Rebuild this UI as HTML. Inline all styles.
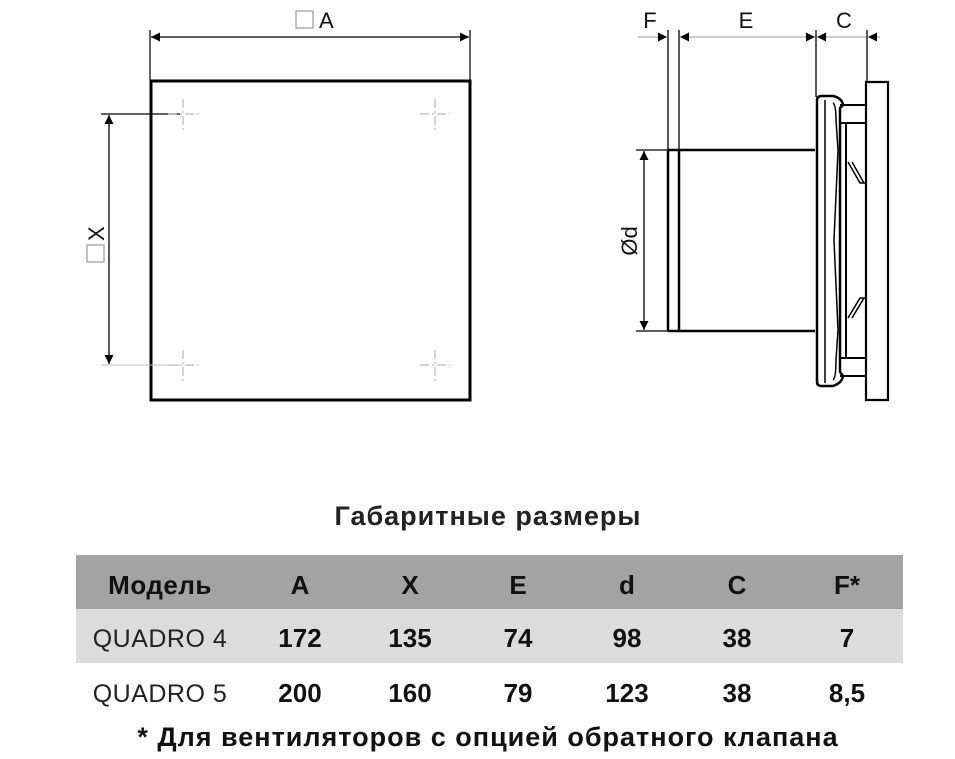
<!DOCTYPE html>
<html><head><meta charset="utf-8"><style>
html,body{margin:0;padding:0;background:#fff;width:955px;height:759px;overflow:hidden}
svg{display:block}
text{font-family:"Liberation Sans","DejaVu Sans",sans-serif}
</style></head><body>
<svg width="955" height="759" viewBox="0 0 955 759" xmlns="http://www.w3.org/2000/svg">
<defs>
<marker id="ar" viewBox="0 0 10 10" refX="10" refY="5" markerWidth="12" markerHeight="9" markerUnits="userSpaceOnUse" orient="auto-start-reverse"><path d="M0,0 L10,5 L0,10 z" fill="#000"/></marker>
</defs>
<rect x="151" y="81" width="319" height="319" fill="none" stroke="#000" stroke-width="3"/>
<line x1="150" y1="30" x2="150" y2="80" stroke="#000" stroke-width="1.2"/>
<line x1="470" y1="30" x2="470" y2="80" stroke="#000" stroke-width="1.2"/>
<line x1="151" y1="37" x2="469" y2="37" stroke="#000" stroke-width="1.3" marker-start="url(#ar)" marker-end="url(#ar)"/>
<rect x="296" y="11" width="17" height="17" fill="none" stroke="#999" stroke-width="1.2"/>
<text x="319" y="28" font-size="22" fill="#111">A</text>
<line x1="101" y1="114" x2="180" y2="114" stroke="#000" stroke-width="1.2"/>
<line x1="101" y1="365" x2="180" y2="365" stroke="#bbb" stroke-width="1"/>
<line x1="109" y1="115" x2="109" y2="364" stroke="#000" stroke-width="1.3" marker-start="url(#ar)" marker-end="url(#ar)"/>
<g transform="translate(102,241) rotate(-90)">
<rect x="-21" y="-15" width="17" height="17" fill="none" stroke="#999" stroke-width="1.2"/>
<text x="0" y="2" font-size="22" fill="#111">X</text>
</g>
<g stroke="#aaa" stroke-width="1" stroke-dasharray="9,3,2,3">
<line x1="168" y1="114" x2="200" y2="114"/><line x1="183" y1="99" x2="183" y2="130"/>
<line x1="420" y1="114" x2="450" y2="114"/><line x1="435" y1="99" x2="435" y2="130"/>
<line x1="168" y1="365" x2="200" y2="365"/><line x1="183" y1="350" x2="183" y2="381"/>
<line x1="420" y1="365" x2="450" y2="365"/><line x1="435" y1="350" x2="435" y2="381"/>
</g>
<g stroke="#000" fill="none">
<line x1="668" y1="30" x2="668" y2="331" stroke-width="1.3"/>
<line x1="679" y1="30" x2="679" y2="331" stroke-width="1.3"/>
<line x1="816" y1="30" x2="816" y2="97" stroke-width="1.3"/>
<line x1="867" y1="30" x2="867" y2="82" stroke-width="1.3"/>
<line x1="638" y1="37" x2="667" y2="37" stroke="#999" stroke-width="1" marker-end="url(#ar)"/>
<line x1="680" y1="37" x2="815" y2="37" stroke="#999" stroke-width="1" marker-start="url(#ar)" marker-end="url(#ar)"/>
<line x1="817" y1="37" x2="866" y2="37" stroke="#999" stroke-width="1" marker-start="url(#ar)"/>
<line x1="880" y1="37" x2="868" y2="37" stroke="#999" stroke-width="1" marker-end="url(#ar)"/>
<path d="M668,150 L815,150 M668,331 L815,331" stroke-width="2.5"/>
<line x1="668" y1="150" x2="668" y2="331" stroke-width="2.5"/>
<line x1="679" y1="150" x2="679" y2="331" stroke-width="2.5"/>
<path d="M817,100 Q817,96 822,96 L833,96 Q842,98 843,105 L840,108 L840,372 L843,376 Q842,383 833,386 L822,386 Q817,386 817,382 Z" stroke-width="2.5"/>
<path d="M825,100 L825,383" stroke-width="1.5"/>
<path d="M833,103 Q836,105 836,120 L838,150 L834,240 L838,330 L836,360 Q836,378 833,380" stroke-width="1.5"/>
<path d="M840,105 L866,105 M840,123 L866,123 M840,358 L866,358 M840,376 L866,376" stroke-width="2"/>
<path d="M846,123 L846,358" stroke-width="2"/>
<path d="M848,162 L860,183 L866,183 M852,162 L864,183" stroke-width="1.5"/>
<path d="M848,318 L860,298 L866,298 M852,318 L864,298" stroke-width="1.5"/>
<path d="M866,82 L888,82 L888,400 L866,400 Z" stroke-width="2.2"/>
<line x1="636" y1="150" x2="668" y2="150" stroke-width="1.2"/>
<line x1="636" y1="331" x2="668" y2="331" stroke-width="1.2"/>
<line x1="644" y1="151" x2="644" y2="330" stroke-width="1.3" marker-start="url(#ar)" marker-end="url(#ar)"/>
</g>
<text x="650" y="28" font-size="22" fill="#111" text-anchor="middle">F</text>
<text x="746" y="28" font-size="22" fill="#111" text-anchor="middle">E</text>
<text x="844" y="28" font-size="22" fill="#111" text-anchor="middle">C</text>
<text transform="translate(637,241) rotate(-90)" font-size="22" fill="#111" text-anchor="middle">Ød</text>
<text x="488" y="525" font-size="27" font-weight="bold" fill="#222" text-anchor="middle" letter-spacing="1">Габаритные размеры</text>
<rect x="76" y="555" width="827" height="54" fill="#a3a3a3"/>
<rect x="76" y="609" width="827" height="54" fill="#dcdcdc"/>
<g font-size="26" font-weight="bold" fill="#111" text-anchor="middle">
<text x="160" y="594" letter-spacing="0.5">Модель</text><text x="300" y="594">A</text><text x="410" y="594">X</text><text x="518" y="594">E</text><text x="627" y="594">d</text><text x="737" y="594">C</text><text x="847" y="594">F*</text>
<text x="300" y="647">172</text><text x="410" y="647">135</text><text x="518" y="647">74</text><text x="627" y="647">98</text><text x="737" y="647">38</text><text x="847" y="647">7</text>
<text x="300" y="702">200</text><text x="410" y="702">160</text><text x="518" y="702">79</text><text x="627" y="702">123</text><text x="737" y="702">38</text><text x="847" y="702">8,5</text>
</g>
<g font-size="25" fill="#222" text-anchor="middle" letter-spacing="0.5">
<text x="160" y="647">QUADRO 4</text><text x="160" y="702">QUADRO 5</text>
</g>
<text x="488" y="746" font-size="27" font-weight="bold" fill="#111" text-anchor="middle" letter-spacing="1">* Для вентиляторов с опцией обратного клапана</text>
</svg>
</body></html>
